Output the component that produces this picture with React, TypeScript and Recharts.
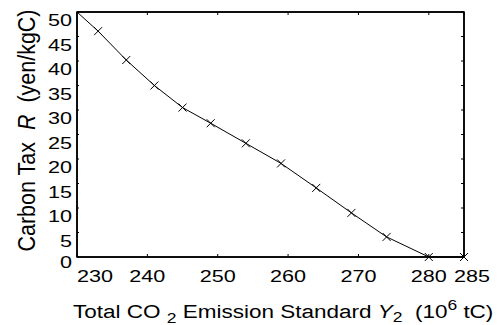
import { LineChart, Line, XAxis, YAxis, Label, ReferenceArea } from "recharts";

document.body.style.margin = "0";

const emission = [230, 233, 237, 241, 245, 249, 254, 259, 264, 269, 274, 280, 285];
const tax = [50, 46.1, 40.2, 35.0, 30.5, 27.3, 23.2, 19.1, 14.1, 9.0, 4.1, 0, 0];
const xTicks = [230, 240, 250, 260, 270, 280, 285];
const yTicks = [0, 5, 10, 15, 20, 25, 30, 35, 40, 45, 50];

const data = emission.map((e, i) => ({ e, tax: tax[i] }));

const FONT = "'Liberation Sans', Arial, Helvetica, sans-serif";
const AXIS = { stroke: "#000", strokeWidth: 1.5 };

const BottomTick = (props: any) => {
  const { x, y, payload, index } = props;
  const first = index === 0;
  const last = index === xTicks.length - 1;
  const tx = last ? x + 8 : x;
  return (
    <g>
      <line x1={x} x2={x} y1={y} y2={y - 3} stroke="#000" />
      <text
        transform={`translate(${tx},${y + 25}) scale(1.27,1)`}
        textAnchor={first ? "start" : "middle"}
        fontSize={17}
        fontFamily={FONT}
        fill="#000"
      >
        {payload.value}
      </text>
    </g>
  );
};

const TopTick = (props: any) => {
  const { x, y } = props;
  return <line x1={x} x2={x} y1={y} y2={y + 3} stroke="#000" />;
};

const LeftTick = (props: any) => {
  const { x, y, payload } = props;
  const off = payload.value === 0 ? 11 : 14;
  return (
    <g>
      <line x1={x} x2={x + 2} y1={y} y2={y} stroke="#000" />
      <text
        transform={`translate(${x - 5},${y + off}) scale(1.27,1)`}
        textAnchor="end"
        fontSize={17}
        fontFamily={FONT}
        fill="#000"
      >
        {payload.value}
      </text>
    </g>
  );
};

const RightTick = (props: any) => {
  const { x, y } = props;
  return <line x1={x} x2={x - 3} y1={y} y2={y} stroke="#000" />;
};

const Cross = (props: any) => {
  const { cx, cy, index } = props;
  if (index === 0 || cx == null) return <g key={index} />;
  const s = 4;
  return (
    <g key={index}>
      <line x1={cx - s} y1={cy - s} x2={cx + s} y2={cy + s} stroke="#000" />
      <line x1={cx - s} y1={cy + s} x2={cx + s} y2={cy - s} stroke="#000" />
    </g>
  );
};

const XTitle = (props: any) => {
  const vb = props.viewBox;
  return (
    <text
      transform={`translate(${vb.x - 4},${vb.y + 61}) scale(1.25,1)`}
      fontSize={18}
      fontFamily={FONT}
      fill="#000"
      style={{ whiteSpace: "pre" }}
    >
      <tspan>Total CO </tspan>
      <tspan fontSize={14} dy={5}>2</tspan>
      <tspan dy={-5}> Emission Standard </tspan>
      <tspan fontStyle="italic">Y</tspan>
      <tspan fontSize={14} dy={4}>2</tspan>
      <tspan dy={-4}>  (10</tspan>
      <tspan fontSize={14} dy={-8}>6</tspan>
      <tspan dy={8}> tC)</tspan>
    </text>
  );
};

const YTitle = (props: any) => {
  const vb = props.viewBox;
  const cy = vb.y + vb.height / 2 - 4;
  return (
    <text
      transform={`translate(${vb.x + 35},${cy}) scale(1.15,1) rotate(-90)`}
      textAnchor="middle"
      fontSize={21.5}
      fontFamily={FONT}
      fill="#000"
      style={{ whiteSpace: "pre" }}
    >
      <tspan>Carbon Tax  </tspan>
      <tspan fontStyle="italic">R</tspan>
      <tspan>  (yen/kgC)</tspan>
    </text>
  );
};

export default function App() {
  return (
    <LineChart
      width={500}
      height={325}
      data={data}
      margin={{ top: 0, right: 0, bottom: 0, left: 0 }}
    >
      <XAxis
        xAxisId="bottom"
        dataKey="e"
        type="number"
        domain={[230, 285]}
        ticks={xTicks}
        interval={0}
        height={68}
        tickSize={0}
        tickMargin={0}
        tickLine={false}
        axisLine={AXIS}
        tick={<BottomTick />}
      >
        <Label content={<XTitle />} />
      </XAxis>
      <XAxis
        xAxisId="top"
        orientation="top"
        dataKey="e"
        type="number"
        domain={[230, 285]}
        ticks={xTicks}
        interval={0}
        height={12}
        tickSize={0}
        tickMargin={0}
        tickLine={false}
        axisLine={AXIS}
        tick={<TopTick />}
      />
      <YAxis
        yAxisId="left"
        type="number"
        domain={[0, 50]}
        ticks={yTicks}
        interval={0}
        width={77}
        tickSize={0}
        tickMargin={0}
        tickLine={false}
        axisLine={AXIS}
        tick={<LeftTick />}
      >
        <Label content={<YTitle />} />
      </YAxis>
      <YAxis
        yAxisId="right"
        orientation="right"
        type="number"
        domain={[0, 50]}
        ticks={yTicks}
        interval={0}
        width={36}
        tickSize={0}
        tickMargin={0}
        tickLine={false}
        axisLine={AXIS}
        tick={<RightTick />}
      />
      <ReferenceArea
        xAxisId="bottom"
        yAxisId="left"
        x1={230}
        x2={285}
        y1={0}
        y2={50}
        fill="none"
        stroke="#000"
        strokeWidth={1.5}
        ifOverflow="visible"
      />
      <Line
        xAxisId="top"
        yAxisId="right"
        type="linear"
        dataKey="tax"
        stroke="none"
        dot={false}
        activeDot={false}
        isAnimationActive={false}
      />
      <Line
        xAxisId="bottom"
        yAxisId="left"
        type="linear"
        dataKey="tax"
        stroke="#000"
        strokeWidth={1}
        dot={<Cross />}
        activeDot={false}
        isAnimationActive={false}
      />
    </LineChart>
  );
}
